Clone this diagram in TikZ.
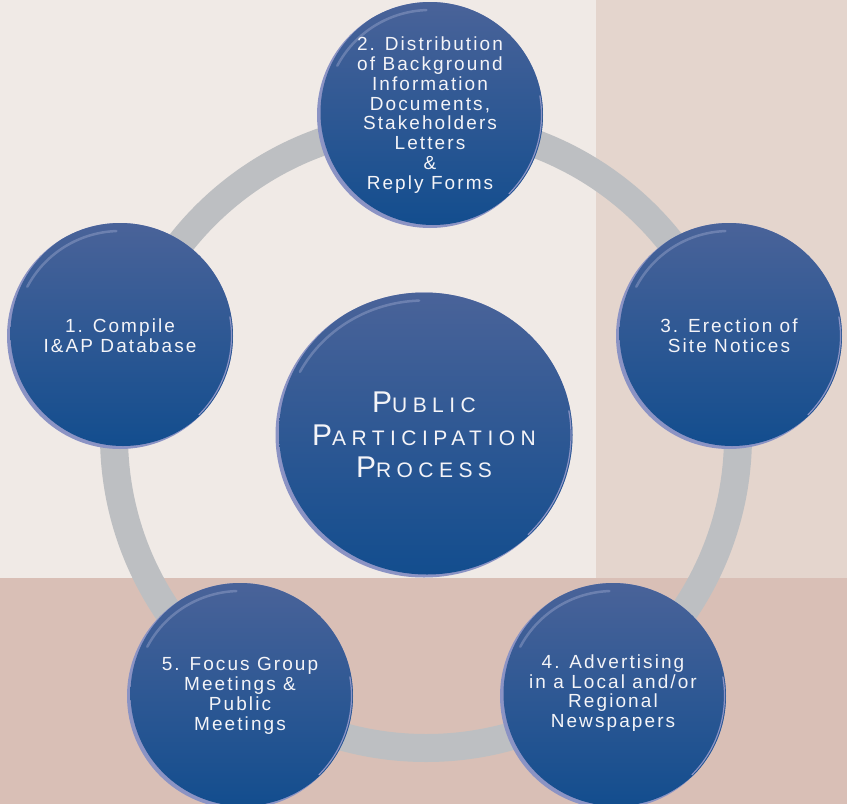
\documentclass[tikz,border=0pt]{standalone}
\usepackage{fontspec}
\setmainfont{Liberation Sans}
\newfontfamily\stepfont[LetterSpace=11]{Liberation Sans}
\newfontfamily\headfont[LetterSpace=26]{Liberation Sans}
\usetikzlibrary{shapes.geometric}

\definecolor{bgmain}{HTML}{F0EAE6}
\definecolor{bgright}{HTML}{E4D5CD}
\definecolor{bgbottom}{HTML}{D9BFB6}
\definecolor{ringgray}{HTML}{BDBFC2}
\definecolor{bubtop}{HTML}{4A6399}
\definecolor{bubbot}{HTML}{124D8E}
\definecolor{rim}{HTML}{8B93C4}
\definecolor{gloss}{HTML}{9AA6CC}
\definecolor{txtwhite}{HTML}{F4F4F8}

\tikzset{
  bubble/.style 2 args={
    ellipse, inner sep=0pt, minimum width=#1, minimum height=#2,
    fill=rim,
    path picture={
      % glossy body, shifted up-right so the rim shows on the lower left
      \shade[top color=bubtop, bottom color=bubbot]
        ([xshift=3pt,yshift=2.5pt]path picture bounding box.center)
        ellipse [x radius=#1/2-0.5pt, y radius=#2/2-0.5pt];
      % soft highlight near the top
      \draw[gloss, line width=2.5pt, opacity=.45, line cap=round]
        ([shift={(152:{#1/2-8pt} and {#2/2-8pt})}]path picture bounding box.center)
        arc[start angle=152, end angle=92, x radius=#1/2-8pt, y radius=#2/2-8pt];
      % thin rim on the right side
      \draw[rim, line width=1.2pt]
        ([shift={(10:{#1/2-1.5pt} and {#2/2-1.5pt})}]path picture bounding box.center)
        arc[start angle=10, end angle=-45, x radius=#1/2-1.5pt, y radius=#2/2-1.5pt];
    }},
  stepnode/.style={bubble={226pt}{226pt}},
  hubnode/.style={bubble={297pt}{285pt}},
  steptext/.style={text=txtwhite, align=center, inner sep=0pt,
    font=\stepfont\fontsize{19}{19.8}\selectfont},
  hubtext/.style={text=txtwhite, align=center, inner sep=0pt,
    font=\headfont\fontsize{21}{32.5}\selectfont},
  ringline/.style={draw=ringgray, line width=28pt},
}

\newcommand{\hubcap}[1]{{\fontsize{30}{32.5}\selectfont #1}}

\begin{document}
\begin{tikzpicture}[x=1pt, y=-1pt]
  % backdrop panels
  \useasboundingbox (0,0) rectangle (847,804);
  \fill[bgmain] (0,0) rectangle (847,804);
  \fill[bgright] (596,0) rectangle (847,578);
  \fill[bgbottom] (0,578) rectangle (847,804);

  % ring joining the five steps
  \coordinate (ringc) at (426,436);
  \draw[ringline] (ringc) circle [radius=312pt];

  % steps around the ring
  \node[stepnode] (s2) at (430,115) {};
  \node[stepnode] (s1) at (120,336) {};
  \node[stepnode] (s3) at (729,336) {};
  \node[stepnode] (s4) at (613,696) {};
  \node[stepnode] (s5) at (240,696) {};

  \node[steptext] (t2) at (s2) {2. Distribution\\of Background\\Information\\Documents,\\Stakeholders\\Letters\\\&\\Reply Forms};
  \node[steptext] (t1) at (s1) {1. Compile\\I\&AP Database};
  \node[steptext] (t3) at (s3) {3. Erection of\\Site Notices};
  \node[steptext] (t4) at ([yshift=3pt]s4.center) {4. Advertising\\in a Local and/or\\Regional\\Newspapers};
  \node[steptext] (t5) at (s5) {5. Focus Group\\Meetings \&\\Public\\Meetings};

  % central hub
  \node[hubnode] (hub) at (424,435) {};
  \node[hubtext] (th) at (hub) {\hubcap{P}UBLIC\\\hubcap{P}ARTICIPATION\\\hubcap{P}ROCESS};
\end{tikzpicture}
\end{document}
